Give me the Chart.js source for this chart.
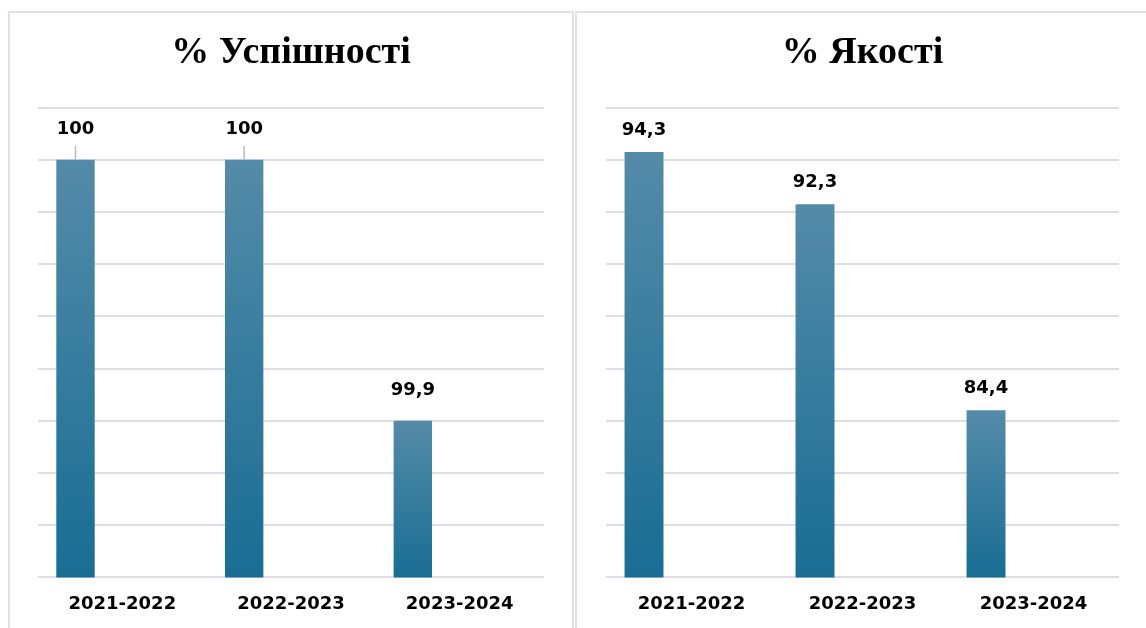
<!DOCTYPE html>
<html>
<head>
<meta charset="utf-8">
<script src="https://cdn.jsdelivr.net/npm/chart.js@4.4.1/dist/chart.umd.min.js"></script>
<style>
  html, body { margin: 0; padding: 0; background: #fff; }
  body { width: 1146px; height: 628px; position: relative; overflow: hidden; }
  .box { position: absolute; top: 11px; height: 640px; border: 2px solid #e1e0ea; box-sizing: border-box; }
  #box-left { left: 8px; width: 566px; }
  #box-right { left: 575px; width: 600px; }
  .wrap { position: absolute; top: 13px; height: 630px; }
  #wrap-left { left: 10px; width: 561px; }
  #wrap-right { left: 578px; width: 568px; }
</style>
</head>
<body>
<div class="box" id="box-left"></div>
<div class="box" id="box-right"></div>
<div class="wrap" id="wrap-left"><canvas id="chart-success"></canvas></div>
<div class="wrap" id="wrap-right"><canvas id="chart-quality"></canvas></div>

<script>
// Data
const years = ['2021-2022', '2022-2023', '2023-2024'];
const successValues = [100, 100, 99.9];
const qualityValues = [94.3, 92.3, 84.4];

// Gridline values (no tick labels shown)
const successGrid = [99.84, 99.86, 99.88, 99.90, 99.92, 99.94, 99.96, 99.98, 100.00, 100.02];
const qualityGrid = [78, 80, 82, 84, 86, 88, 90, 92, 94, 96];

const BAR_TOP = '#548ba8';
const BAR_BOTTOM = '#196d93';
const GRID = '#dedde7';
const LABEL_FONT = 'bold 18px "DejaVu Sans", sans-serif';

// each bar gets its own light-to-dark gradient
function barGradient(context) {
    const chart = context.chart;
    const area = chart.chartArea;
    if (!area || context.raw == null) return BAR_BOTTOM;
    const y = chart.scales.y;
    const top = y.getPixelForValue(context.raw);
    const g = chart.ctx.createLinearGradient(0, top, 0, area.bottom);
    g.addColorStop(0, BAR_TOP);
    g.addColorStop(1, BAR_BOTTOM);
    return g;
}

// value labels above bars, with optional leader line
const valueLabels = {
    id: 'valueLabels',
    afterDatasetsDraw(chart, args, opts) {
        const ctx = chart.ctx;
        const meta = chart.getDatasetMeta(0);
        const data = chart.data.datasets[0].data;
        ctx.save();
        ctx.font = LABEL_FONT;
        ctx.fillStyle = '#000';
        ctx.textAlign = 'center';
        ctx.textBaseline = 'middle';
        meta.data.forEach((bar, i) => {
            const cy = bar.y - opts.lift;
            ctx.fillText(String(data[i]).replace('.', ','), bar.x, cy);
            if (opts.leader && opts.leader[i]) {
                ctx.strokeStyle = '#b9b7c9';
                ctx.lineWidth = 1.5;
                ctx.beginPath();
                ctx.moveTo(bar.x, cy + 16);
                ctx.lineTo(bar.x, bar.y);
                ctx.stroke();
            }
        });
        ctx.restore();
    }
};

function makeChart(id, title, values, grid, labelOpts) {
    return new Chart(document.getElementById(id), {
        type: 'bar',
        data: {
            labels: years,
            datasets: [
                { data: values, backgroundColor: barGradient, borderWidth: 0 },
                // empty series that keep the bars to the left of each category
                { data: [null, null, null], backgroundColor: 'transparent' },
                { data: [null, null, null], backgroundColor: 'transparent' }
            ]
        },
        options: {
            responsive: true,
            maintainAspectRatio: false,
            animation: false,
            categoryPercentage: 0.833,
            barPercentage: 0.82,
            layout: { padding: { left: 28, right: 27, top: 0, bottom: 12 } },
            plugins: {
                legend: { display: false },
                tooltip: { enabled: false },
                title: {
                    display: true,
                    text: title,
                    color: '#000',
                    font: { family: '"Liberation Serif", "Times New Roman", serif', size: 38, weight: 'bold' },
                    padding: { top: 17, bottom: 32 }
                },
                valueLabels: labelOpts
            },
            scales: {
                x: {
                    grid: { display: false, drawTicks: false },
                    border: { display: false },
                    ticks: {
                        color: '#000',
                        padding: 16,
                        font: { family: '"DejaVu Sans", sans-serif', size: 18, weight: 'bold' }
                    }
                },
                y: {
                    min: grid[0],
                    max: grid[grid.length - 1],
                    afterBuildTicks: (scale) => {
                        scale.ticks = grid.map(v => ({ value: v }));
                    },
                    grid: { color: GRID, lineWidth: 2, drawTicks: false },
                    border: { display: false },
                    ticks: { display: false }
                }
            }
        },
        plugins: [valueLabels]
    });
}

makeChart('chart-success', '% Успішності', successValues, successGrid, { lift: 30, leader: [true, true, false] });
makeChart('chart-quality', '% Якості', qualityValues, qualityGrid, { lift: 22 });
</script>
</body>
</html>
